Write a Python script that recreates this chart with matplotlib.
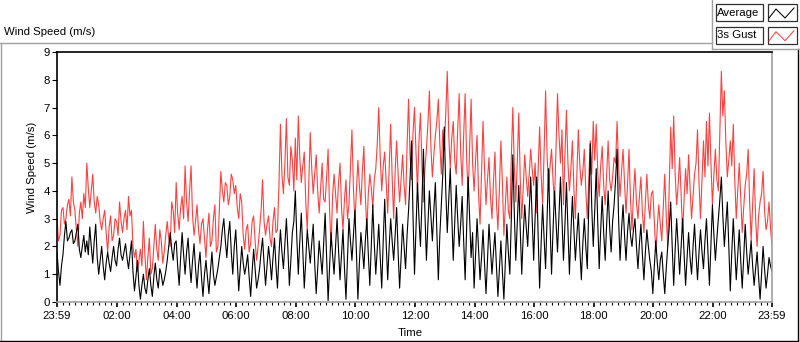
import matplotlib
matplotlib.use("Agg")
import matplotlib.pyplot as plt
from matplotlib.patches import Rectangle
import numpy as np

W, H = 800, 342
plt.rcParams["font.family"] = ["Liberation Sans", "DejaVu Sans"]

# samples every 3 minutes, starting 23:59 (t = -1 min), one row per hour
step_min = 3
gust = [
    3.0, 2.2, 2.4, 3.3, 3.4, 2.8, 3.0, 3.5, 3.7, 3.1, 4.5, 3.6, 3.3, 2.6, 2.0, 3.2, 3.6, 3.0, 3.9, 3.4,
    5.0, 4.1, 3.4, 4.0, 4.6, 3.6, 3.2, 3.8, 3.5, 2.9, 2.6, 3.0, 3.3, 2.5, 1.8, 2.7, 3.1, 2.2, 2.4, 3.0,
    2.9, 2.4, 3.6, 2.9, 2.5, 3.0, 3.3, 2.6, 3.8, 3.1, 3.3, 2.0, 1.6, 1.9, 1.1, 1.5, 1.9, 1.3, 2.9, 1.7,
    0.8, 1.6, 2.3, 1.0, 1.2, 2.0, 2.8, 1.9, 1.5, 2.6, 2.2, 1.4, 1.8, 2.4, 2.9, 2.3, 2.0, 3.6, 3.3, 2.5,
    4.3, 3.2, 2.6, 3.4, 3.8, 3.0, 4.9, 3.6, 2.9, 4.0, 4.9, 3.1, 2.4, 2.9, 3.5, 2.6, 2.1, 2.8, 3.0, 2.3,
    1.6, 2.6, 3.2, 2.0, 2.2, 3.0, 3.5, 1.8, 2.0, 3.4, 4.7, 4.0, 3.6, 4.3, 4.2, 3.5, 3.8, 4.6, 4.4, 3.9,
    4.2, 3.4, 3.0, 3.9, 3.6, 2.4, 1.9, 2.6, 2.8, 1.8, 2.1, 2.9, 3.1, 2.2, 1.5, 2.0, 2.6, 3.3, 4.4, 2.9,
    2.4, 2.8, 3.1, 2.3, 2.0, 2.9, 3.4, 2.5, 2.6, 4.2, 6.4, 4.6, 3.9, 5.0, 6.6, 4.5, 4.2, 5.6, 5.1, 4.0,
    5.9, 4.4, 6.7, 5.2, 4.3, 4.9, 5.4, 3.6, 2.6, 4.2, 6.1, 4.8, 3.9, 4.6, 5.3, 4.0, 3.2, 4.1, 5.0, 3.7,
    3.6, 4.5, 5.5, 3.3, 2.0, 3.8, 4.6, 3.9, 3.2, 4.3, 5.0, 3.4, 2.6, 3.7, 4.4, 3.0, 3.5, 4.9, 6.2, 4.1,
    2.9, 4.0, 5.1, 4.2, 3.5, 4.7, 5.6, 3.8, 2.6, 3.9, 4.6, 4.1, 3.4, 4.4, 4.8, 5.7, 7.0, 5.2, 4.0, 4.9,
    5.4, 4.3, 3.2, 4.8, 6.4, 4.5, 3.0, 4.7, 5.8, 4.6, 3.6, 4.4, 5.3, 4.2, 3.5, 5.6, 7.3, 5.3, 4.4, 6.1,
    7.0, 5.4, 4.0, 5.8, 6.8, 4.9, 3.6, 4.8, 5.5, 6.4, 7.6, 5.6, 4.5, 5.3, 6.0, 6.5, 7.3, 5.7, 4.6, 6.2,
    5.5, 6.8, 8.3, 6.0, 4.8, 5.9, 6.5, 5.1, 4.6, 6.2, 7.5, 5.4, 4.2, 6.0, 7.5, 5.2, 3.8, 5.6, 7.3, 5.0,
    4.0, 5.1, 6.0, 3.9, 2.8, 4.6, 6.5, 4.8, 3.5, 4.4, 5.2, 3.8, 3.0, 4.3, 5.4, 3.6, 2.6, 4.1, 5.8, 4.3,
    2.4, 3.5, 4.5, 3.3, 3.0, 5.2, 7.0, 4.9, 3.6, 5.0, 6.8, 4.4, 3.0, 4.1, 5.3, 4.5, 3.8, 4.6, 5.5, 4.8,
    4.2, 5.0, 3.2, 4.7, 6.3, 4.6, 3.5, 5.4, 7.6, 5.3, 4.0, 4.9, 5.5, 4.4, 3.6, 5.6, 7.5, 6.0, 5.0, 6.2,
    3.5, 5.3, 6.9, 5.0, 4.0, 4.8, 5.8, 4.1, 3.0, 4.6, 6.2, 4.9, 4.2, 4.7, 5.5, 4.0, 3.0, 4.4, 5.8, 4.6,
    6.5, 5.1, 6.4, 4.7, 3.8, 4.9, 5.6, 4.2, 3.5, 4.6, 5.8, 4.4, 4.0, 4.5, 5.2, 5.0, 6.5, 4.9, 3.8, 4.7,
    5.5, 4.3, 3.2, 4.2, 5.5, 3.7, 2.6, 3.9, 4.8, 3.6, 3.0, 3.8, 4.5, 3.2, 2.5, 3.6, 4.6, 3.5, 3.0, 3.9,
    4.0, 2.9, 1.8, 2.7, 3.5, 2.8, 2.2, 3.4, 4.6, 3.1, 2.0, 4.1, 6.3, 4.8, 6.7, 4.6, 3.5, 4.2, 5.2, 3.8,
    2.5, 3.7, 4.8, 3.9, 5.3, 4.1, 3.0, 3.8, 4.6, 5.0, 6.2, 4.3, 3.0, 4.4, 5.8, 4.5, 6.5, 4.9, 6.8, 5.0,
    3.5, 4.6, 5.5, 4.4, 4.0, 6.2, 8.3, 6.7, 7.6, 5.8, 4.5, 5.1, 5.8, 4.9, 6.4, 4.4, 3.0, 4.0, 5.0, 3.8,
    2.5, 3.4, 4.2, 4.6, 5.5, 3.6, 2.2, 3.5, 4.8, 3.0, 2.0, 3.1, 3.6, 3.9, 4.7, 3.3, 2.6, 2.9, 3.6, 2.7,
    2.0,
]
average = [
    1.8, 1.1, 0.6, 1.3, 1.7, 2.4, 2.9, 2.2, 2.3, 2.5, 2.6, 2.1, 2.2, 2.5, 2.8, 1.9, 1.6, 2.0, 2.4, 1.8,
    2.2, 1.7, 2.7, 2.0, 1.4, 2.2, 2.8, 1.6, 1.0, 1.5, 2.0, 1.3, 0.8, 1.4, 1.8, 1.4, 1.1, 1.6, 2.0, 1.5,
    1.3, 1.9, 2.3, 1.7, 1.5, 1.8, 2.1, 1.6, 1.2, 1.7, 2.2, 1.1, 0.4, 0.9, 1.5, 0.6, 0.1, 0.6, 1.0, 0.5,
    0.3, 0.8, 1.2, 0.6, 0.2, 0.9, 1.4, 0.8, 0.5, 1.2, 1.0, 0.6, 0.8, 1.1, 1.5, 2.0, 2.5, 1.9, 1.5, 2.1,
    2.2, 1.3, 0.6, 1.6, 2.5, 1.7, 1.0, 1.8, 2.3, 1.4, 0.7, 1.5, 2.1, 1.2, 0.5, 1.3, 1.8, 0.9, 0.2, 1.0,
    1.5, 0.9, 0.3, 1.1, 1.8, 1.0, 0.6, 0.9, 1.2, 1.6, 2.0, 2.6, 3.0, 2.2, 1.6, 2.4, 2.9, 1.8, 1.0, 2.0,
    2.6, 1.5, 0.4, 1.2, 2.0, 1.4, 1.0, 1.3, 1.7, 0.9, 0.2, 1.1, 1.9, 1.2, 0.5, 0.8, 1.2, 1.8, 2.3, 1.4,
    0.6, 1.3, 2.0, 1.5, 0.8, 1.6, 2.3, 1.3, 0.5, 1.7, 2.6, 1.8, 1.2, 2.1, 3.0, 1.9, 0.6, 1.5, 2.5, 2.9,
    4.0, 2.3, 1.0, 2.2, 3.2, 1.8, 0.5, 1.5, 2.6, 2.0, 1.4, 2.1, 2.8, 1.4, 0.3, 1.2, 2.2, 1.6, 1.0, 2.1,
    3.2, 1.6, 0.05, 1.3, 2.5, 1.7, 1.0, 2.0, 3.0, 1.9, 0.8, 1.7, 2.6, 1.2, 0.1, 1.6, 3.0, 2.2, 1.5, 2.4,
    3.3, 1.8, 0.1, 1.4, 2.5, 1.9, 1.2, 2.2, 3.0, 1.7, 0.6, 2.0, 3.5, 2.1, 1.0, 1.9, 2.8, 1.6, 0.5, 2.2,
    3.7, 2.1, 0.8, 2.0, 3.0, 2.2, 1.5, 2.4, 3.4, 1.8, 0.5, 1.6, 2.8, 2.0, 1.2, 2.4, 3.3, 4.4, 5.8, 3.1,
    1.0, 2.6, 4.3, 3.0, 2.0, 3.6, 5.5, 3.2, 1.5, 2.8, 4.0, 3.1, 2.2, 3.3, 4.3, 2.5, 0.8, 2.4, 3.5, 4.6,
    6.3, 4.0, 2.5, 3.7, 4.8, 3.1, 1.5, 2.9, 4.2, 3.0, 2.0, 2.8, 3.8, 2.2, 0.8, 2.6, 4.5, 3.0, 1.6, 2.5,
    0.5, 1.7, 3.0, 1.9, 0.8, 1.6, 2.6, 1.4, 0.3, 1.5, 2.8, 1.9, 1.0, 1.8, 2.5, 1.3, 0.2, 1.2, 2.2, 1.1,
    0.1, 1.5, 2.8, 1.8, 1.0, 3.0, 5.3, 3.2, 1.5, 2.9, 4.2, 2.6, 1.0, 2.4, 3.5, 2.7, 2.0, 3.3, 4.5, 3.0,
    1.5, 3.1, 4.5, 2.4, 0.5, 2.1, 3.5, 2.3, 1.2, 3.0, 4.8, 2.8, 1.0, 2.6, 4.0, 2.9, 1.8, 3.2, 4.5, 3.0,
    1.5, 2.8, 4.3, 2.6, 1.0, 2.5, 3.8, 2.6, 1.5, 2.4, 3.2, 1.9, 0.8, 2.1, 3.0, 2.0, 1.2, 3.5, 5.7, 3.4,
    2.0, 3.3, 4.8, 2.9, 1.2, 2.6, 3.8, 2.5, 1.5, 2.8, 4.0, 2.7, 1.8, 2.9, 3.5, 4.4, 5.5, 3.0, 1.5, 2.6,
    3.5, 2.4, 1.5, 2.5, 3.2, 2.4, 2.0, 2.6, 3.0, 2.0, 1.2, 2.1, 2.8, 1.7, 0.8, 1.8, 2.6, 2.0, 1.5, 1.1,
    0.3, 1.3, 2.2, 1.4, 0.8, 1.5, 1.8, 1.0, 0.3, 1.2, 2.0, 2.7, 3.6, 2.0, 0.6, 1.9, 3.0, 2.0, 1.0, 2.0,
    3.0, 1.7, 0.6, 1.6, 2.5, 1.6, 1.0, 2.0, 2.8, 1.7, 0.8, 1.8, 2.6, 1.8, 1.2, 2.2, 3.0, 1.8, 0.6, 2.0,
    3.5, 2.4, 1.5, 2.3, 3.0, 3.7, 4.5, 3.1, 2.0, 2.8, 3.6, 2.0, 0.4, 1.8, 3.0, 1.9, 0.8, 1.7, 2.6, 1.5,
    0.5, 1.6, 2.8, 1.8, 1.0, 1.6, 2.2, 1.3, 0.6, 1.2, 1.8, 0.9, 0.1, 1.0, 2.0, 1.2, 0.5, 1.0, 1.6, 1.3,
    1.1,
]
tick_minutes = [-1, 120, 240, 360, 480, 600, 720, 840, 960, 1080, 1200, 1320, 1439]
tick_labels = ["23:59", "02:00", "04:00", "06:00", "08:00", "10:00", "12:00",
               "14:00", "16:00", "18:00", "20:00", "22:00", "23:59"]
series_names = ["Average", "3s Gust"]
RED = "#ff4040"
GRAY = "#a0a0a0"
FS = 8.2

t = -1 + step_min * np.arange(len(gust))

fig = plt.figure(figsize=(W / 100, H / 100), dpi=100)
fig.patch.set_facecolor("white")

# overlay in pixel coords for frame, title and legend
ov = fig.add_axes([0, 0, 1, 1])
ov.set_xlim(0, W); ov.set_ylim(H, 0); ov.axis("off")
ov.plot([0, 711.5], [42.5, 42.5], color=GRAY, lw=1)
ov.plot([0.5, 0.5], [42.5, 340.5], color=GRAY, lw=1)
ov.plot([0, 797.5], [340.5, 340.5], color="black", lw=1)
ov.plot([797.5, 797.5], [48.5, 340.5], color="black", lw=1)
ov.plot([711.5, 711.5], [0, 48.5], color=GRAY, lw=1)
ov.plot([711.5, 800], [48.5, 48.5], color=GRAY, lw=1)
ov.text(4, 32, "Wind Speed (m/s)", fontsize=FS, ha="left", va="center")
ov.text(32, 167, "Wind Speed (m/s)", fontsize=FS, rotation=90, ha="center", va="center")
ov.text(410, 333, "Time", fontsize=FS, ha="center", va="center")

for i, (name, col) in enumerate(zip(series_names, ["black", RED])):
    y0 = 4 + i * 22.7
    ov.add_patch(Rectangle((715.5, y0), 47, 17, fill=False, ec="#303030", lw=0.9))
    ov.add_patch(Rectangle((767.5, y0), 29, 17, fill=False, ec="#303030", lw=0.9))
    ov.text(717, y0 + 8.8, name, fontsize=FS, ha="left", va="center")
    ov.plot([769, 776, 785, 794], [y0 + 14, y0 + 5, y0 + 14, y0 + 4], color=col, lw=0.75)

ax = fig.add_axes([57 / W, 1 - 302 / H, 715 / W, 250 / H])
ax.plot(t, gust, color=RED, lw=0.8)
ax.plot(t, average, color="black", lw=0.8)
ax.set_xlim(-1, 1439)
ax.set_ylim(0, 9)
ax.set_yticks(range(10))
ax.set_xticks(tick_minutes)
ax.set_xticklabels(tick_labels)
ax.set_xticks(np.arange(12, 1439, 12), minor=True)
ax.tick_params(axis="y", direction="out", length=3.6, width=0.8, pad=1.5, labelsize=FS)
ax.tick_params(axis="x", which="major", direction="out", length=3.8, width=1.2, pad=3, labelsize=FS)
ax.tick_params(axis="x", which="minor", direction="out", length=2, width=0.8)
for side in ["left", "top"]:
    ax.spines[side].set_color("black"); ax.spines[side].set_linewidth(1.2)
for side in ["right", "bottom"]:
    ax.spines[side].set_color(GRAY); ax.spines[side].set_linewidth(1.2)

fig.savefig("out.png", dpi=100, facecolor="white")
